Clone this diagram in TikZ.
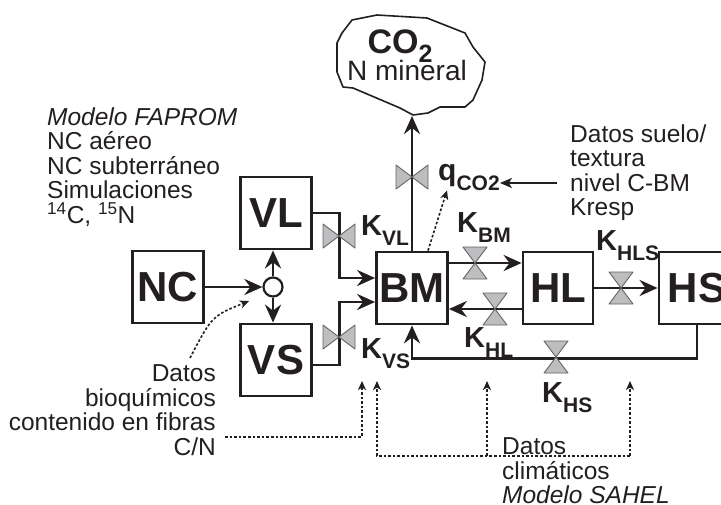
\documentclass[tikz,border=0pt]{standalone}
\usepackage{fontspec}
\setmainfont{Liberation Sans}
\usepackage{tikz}
\usetikzlibrary{arrows.meta,positioning,calc}
\usepackage{xcolor}
\definecolor{ink}{RGB}{35,31,32}
\definecolor{valvegray}{RGB}{188,190,192}
\newcommand\kname[1]{\fontsize{29}{29}\selectfont K\raisebox{-10pt}{\fontsize{21}{21}\selectfont #1}}
\tikzset{
  box/.style={draw=ink,line width=2.8pt,minimum width=71pt,minimum height=72pt,inner sep=0pt,
    font=\bfseries\fontsize{42}{42}\selectfont,text=ink},
  junc/.style={circle,draw=ink,line width=2.2pt,fill=white,minimum size=19pt,inner sep=0pt},
  arr/.style={-{Stealth[length=18pt,width=16pt,inset=6pt]},line width=2.8pt,draw=ink},
  ptr/.style={-{Stealth[length=12pt,width=10pt,inset=3pt]},line width=1.6pt,draw=ink},
  dat/.style={-{Stealth[length=9pt,width=8pt,inset=2.5pt]},line width=1.6pt,
    dash pattern=on 2.6pt off 2pt,draw=ink},
  txt/.style={inner sep=0pt,font=\fontsize{24.5}{24.5}\selectfont,text=ink},
  klab/.style={inner sep=0pt,font=\bfseries,text=ink},
  valveh/.pic={\filldraw[fill=valvegray,draw=ink!70,line width=0.9pt,line join=round]
    (-16,-12) -- (16,12) -- (16,-12) -- (-16,12) -- cycle;},
  valvev/.pic={\filldraw[fill=valvegray,draw=ink!70,line width=0.9pt,line join=round]
    (-12,-16) -- (12,16) -- (-12,16) -- (12,-16) -- cycle;},
}
\begin{document}
\begin{tikzpicture}[x=1pt,y=-1pt]
\clip (0,0) rectangle (721,504);
% compartments
\node[box] (NC) at (168,287) {NC};
\node[junc] (jn) at (273,287) {};
\node[box] (VL) at (276,213) {VL};
\node[box] (VS) at (276,360) {VS};
\node[box] (BM) at (412,288) {BM};
\node[box,minimum width=70pt] (HL) at (558,288) {HL};
\node[box,minimum width=76pt] (HS) at (697,288) {HS};
% cloud
\draw[ink,line width=1.6pt,line join=round]
  (352,20) -- (377,15) -- (427,18) -- (465,33) -- (473,47) -- (485,62) -- (482,80)
  -- (473,100) -- (465,107) -- (440,107) -- (428,113) -- (413,115) -- (400,108)
  -- (353,88) -- (343,87) -- (337,72) -- (337,43) -- (342,33) -- cycle;
\node[inner sep=0pt,anchor=base,text=ink,font=\bfseries\fontsize{34}{34}\selectfont] (co2) at (400,53)
  {CO\raisebox{-9pt}{\fontsize{25}{25}\selectfont 2}};
\node[inner sep=0pt,anchor=base,text=ink,font=\fontsize{28}{28}\selectfont] (nmin) at (407,80) {N mineral};
\coordinate (cldb) at (412,116);
% flows
\draw[arr] (NC.east) -- (jn.west);
\draw[arr] (jn.north) -- (jn.north |- VL.south);
\draw[arr] (jn.south) -- (jn.south |- VS.north);
\draw[arr] (VL.east) -| ([xshift=-36pt,yshift=10pt]BM.west) -- ([yshift=10pt]BM.west);
\draw[arr] ([yshift=-5pt]VS.east) -| ([xshift=-36pt,yshift=-14pt]BM.west) -- ([yshift=-14pt]BM.west);
\draw[arr] (BM.north) -- (cldb);
\draw[arr] ([yshift=25pt]BM.east) -- ([yshift=25pt]HL.west);
\draw[arr] ([yshift=-21pt]HL.west) -- ([yshift=-21pt]BM.east);
\draw[arr] (HL.east) -- (HS.west);
\draw[arr] (HS.south) |- ([yshift=-33pt]BM.south) -- (BM.south);
% valves
\pic at (339,236) {valveh};
\pic at (339,337) {valveh};
\pic at (412,177) {valveh};
\pic at (475,263) {valvev};
\pic at (495,309) {valvev};
\pic at (621,288) {valvev};
\pic at (556,357) {valvev};
% rate labels
\node[klab,anchor=base west] (kvl) at (361,235) {\kname{VL}};
\node[klab,anchor=base west] (kvs) at (361,358) {\kname{VS}};
\node[klab,anchor=base west] (kbm) at (457,232) {\kname{BM}};
\node[klab,anchor=base west] (khl) at (464,347) {\kname{HL}};
\node[klab,anchor=base west] (khls) at (596,250) {\kname{HLS}};
\node[klab,anchor=base west] (khs) at (542,402) {\kname{HS}};
\node[klab,anchor=base west] (q) at (438,180)
  {\fontsize{30}{30}\selectfont q\raisebox{-10pt}{\fontsize{21}{21}\selectfont CO2}};
% data sources
\node[txt,align=left,anchor=north west] (fap) at (47,107.5)
  {\textit{Modelo FAPROM}\\NC aéreo\\NC subterráneo\\Simulaciones\\
   \textsuperscript{14}C, \textsuperscript{15}N};
\node[txt,align=left,anchor=north west] (suelo) at (570,124.5)
  {Datos suelo/\\textura\\nivel C-BM\\Kresp};
\node[txt,align=right,anchor=north east] (bioq) at (216,364.5)
  {Datos\\bioquímicos\\contenido en fibras\\C/N};
\node[txt,align=left,anchor=north west] (clim) at (502,437.5)
  {Datos\\climáticos\\\textit{Modelo SAHEL}};
\coordinate (sin) at (557,183);
\coordinate (cn) at (225,437);
\coordinate (kvsA) at (362,381);
\coordinate (kvsB) at (377,381);
\coordinate (hlA) at (487,381);
\coordinate (hsA) at (630,381);
\coordinate (climr) at (630,456);
\draw[ptr] (sin) -- (q.east |- sin);
\draw[dat] ([xshift=16pt]BM.north) -- ([xshift=9pt]q.south west);
\draw[dat] (190,358) .. controls (212,316) .. (249,301);
\draw[dat] (cn) -| (kvsA);
\draw[dat] (climr) -| (kvsB);
\draw[dat] (hlA |- climr) -- (hlA);
\draw[dat] (climr) -- (hsA);
\end{tikzpicture}
\end{document}
